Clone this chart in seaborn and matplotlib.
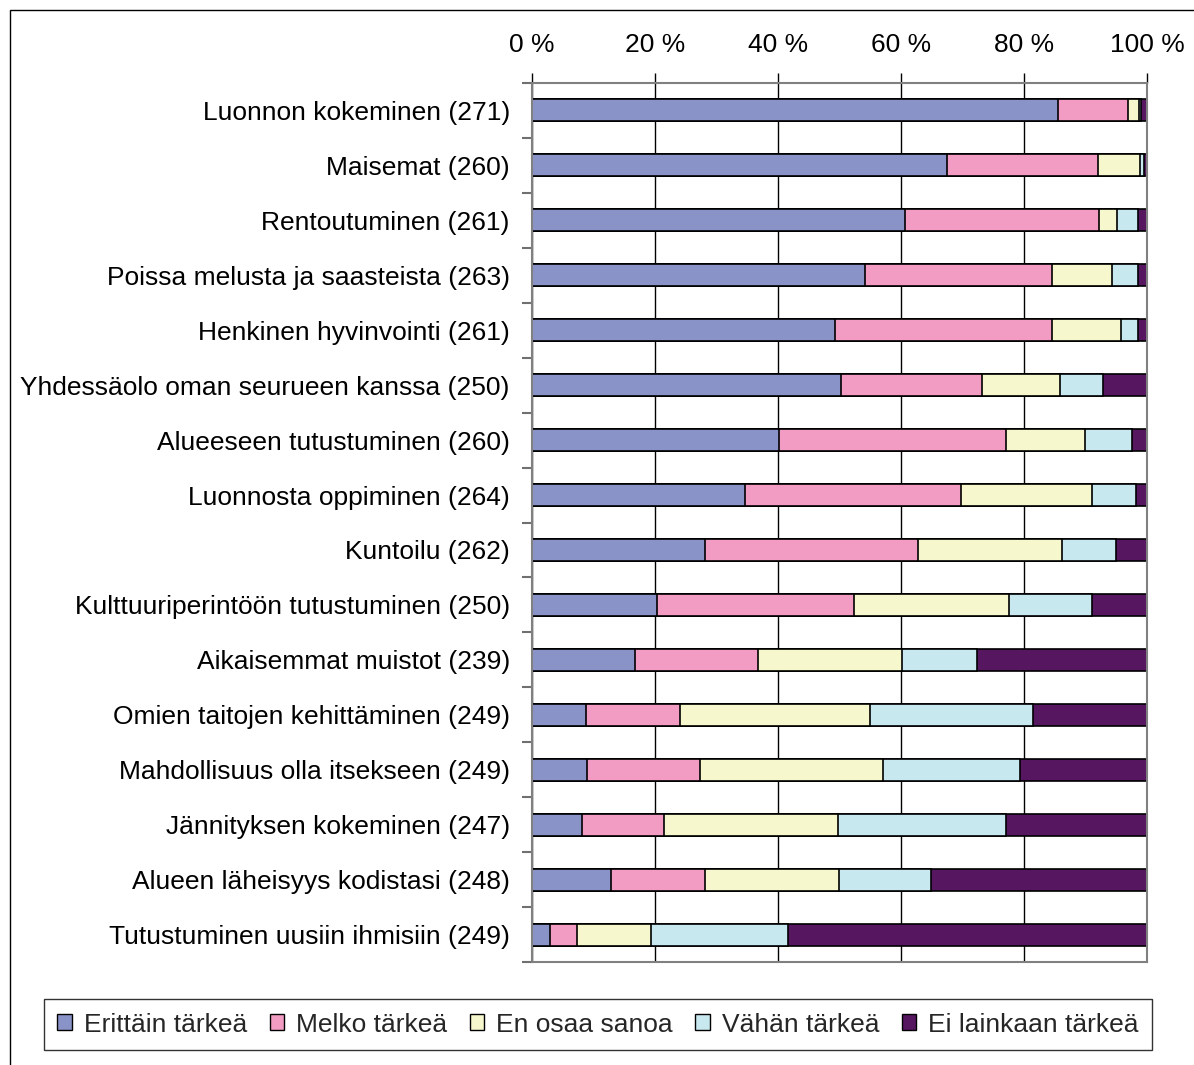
import matplotlib
matplotlib.use('Agg')
import pandas as pd
import matplotlib.pyplot as plt
import seaborn as sns
from matplotlib.patches import Rectangle, Patch
from matplotlib.ticker import MultipleLocator

# Aineisto: osuudet (%) vastausluokittain
kategoriat = [
    "Luonnon kokeminen (271)",
    "Maisemat (260)",
    "Rentoutuminen (261)",
    "Poissa melusta ja saasteista (263)",
    "Henkinen hyvinvointi (261)",
    "Yhdessäolo oman seurueen kanssa (250)",
    "Alueeseen tutustuminen (260)",
    "Luonnosta oppiminen (264)",
    "Kuntoilu (262)",
    "Kulttuuriperintöön tutustuminen (250)",
    "Aikaisemmat muistot (239)",
    "Omien taitojen kehittäminen (249)",
    "Mahdollisuus olla itsekseen (249)",
    "Jännityksen kokeminen (247)",
    "Alueen läheisyys kodistasi (248)",
    "Tutustuminen uusiin ihmisiin (249)",
]
erittain = [85.5, 67.4, 60.6, 54.1, 49.2, 50.3, 40.2, 34.7, 28.2, 20.3, 16.7, 8.8, 9.0, 8.2, 12.9, 2.9]
melko = [11.4, 24.6, 31.6, 30.5, 35.4, 22.9, 36.8, 35.0, 34.6, 32.0, 20.0, 15.3, 18.3, 13.3, 15.3, 4.4]
en_osaa = [1.8, 6.8, 3.0, 9.7, 11.2, 12.6, 12.9, 21.4, 23.3, 25.3, 23.5, 30.9, 29.7, 28.2, 21.7, 12.1]
vahan = [0.3, 0.7, 3.3, 4.2, 2.7, 7.1, 7.7, 7.1, 8.8, 13.5, 12.1, 26.4, 22.4, 27.3, 15.0, 22.3]
ei_lainkaan = [1.0, 0.5, 1.5, 1.5, 1.5, 7.1, 2.4, 1.8, 5.1, 8.9, 27.7, 18.6, 20.6, 23.1, 35.1, 58.3]

luokat = ["Erittäin tärkeä", "Melko tärkeä", "En osaa sanoa", "Vähän tärkeä", "Ei lainkaan tärkeä"]
varit = ["#8A93C8", "#F29CC3", "#F7F7CE", "#C8E8F0", "#561660"]

df = pd.DataFrame({"kohde": kategoriat})
sarakkeet = [erittain, melko, en_osaa, vahan, ei_lainkaan]
kumul = [0.0] * len(kategoriat)
for nimi, arvot in zip(luokat, sarakkeet):
    kumul = [k + a for k, a in zip(kumul, arvot)]
    df[nimi] = kumul

sns.set_theme(style="white")
plt.rcParams['font.family'] = ['Liberation Sans', 'DejaVu Sans']

fig = plt.figure(figsize=(11.94, 10.65), dpi=100)
ax = fig.add_axes([532 / 1194, 1 - 962 / 1065, 615 / 1194, 879 / 1065])

# Pinotaan palkit: piirretään suurin kertymä ensin
for nimi, vari in reversed(list(zip(luokat, varit))):
    sns.barplot(data=df, y="kohde", x=nimi, orient="h", color=vari,
                edgecolor="black", linewidth=1.2, width=0.4, ax=ax,
                saturation=1)

ax.set_xlim(0, 100)
ax.set_ylim(len(kategoriat) - 0.5, -0.5)
ax.set_xlabel("")
ax.set_ylabel("")

ax.xaxis.tick_top()
ax.set_xticks([0, 20, 40, 60, 80, 100])
ax.set_xticklabels([f"{v} %" for v in [0, 20, 40, 60, 80, 100]])
ax.tick_params(axis="x", top=True, length=7, width=1, color="black",
               labelsize=19, pad=12, colors="black")
ax.tick_params(axis="y", which="major", length=0, pad=16, labelsize=19, colors="black")
ax.yaxis.set_minor_locator(MultipleLocator(1, offset=0.5))
ax.tick_params(axis="y", which="minor", left=True, length=7, width=1.5, color="#707070")

ax.grid(axis="x", color="black", linewidth=1)
ax.set_axisbelow(True)
for s in ["top", "right", "bottom", "left"]:
    ax.spines[s].set_color("#808080")
    ax.spines[s].set_linewidth(1.5)

# Kaavion ulkokehys
fig.patches.append(Rectangle((10 / 1194, -0.05), 1.1, 1 - 10 / 1065 + 0.05,
                             transform=fig.transFigure, fill=False,
                             edgecolor="black", linewidth=1))

kahvat = [Patch(facecolor=v, edgecolor="black", linewidth=1) for v in varit]
leg = fig.legend(kahvat, luokat, loc="center", ncol=5, mode="expand",
                 bbox_to_anchor=(44 / 1194, 1 - 1050 / 1065, 1108 / 1194, 51 / 1065),
                 fontsize=19, frameon=True, fancybox=False, edgecolor="black",
                 handlelength=0.55, handleheight=0.55, handletextpad=0.45,
                 borderaxespad=0, columnspacing=0.8, borderpad=0.5)
leg.get_frame().set_linewidth(1)

fig.savefig("out.png", dpi=100)
